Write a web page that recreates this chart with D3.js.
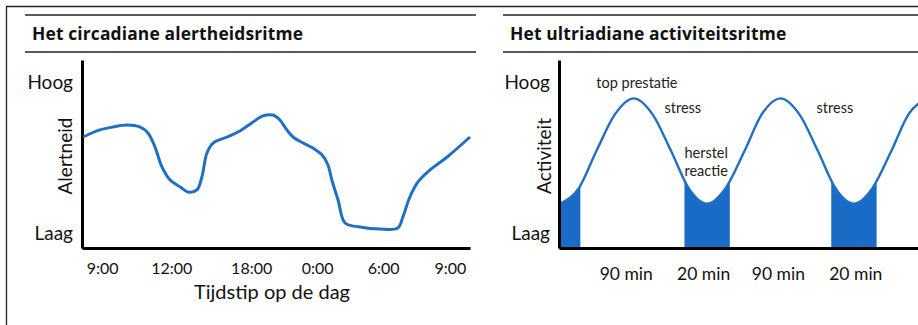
<!DOCTYPE html>
<html>
<head>
<meta charset="utf-8">
<script src="https://cdn.jsdelivr.net/npm/d3@7"></script>
<style>
  html, body { margin: 0; padding: 0; background: #fff; }
  svg { display: block; font-family: Lato, "Open Sans", sans-serif; }
</style>
</head>
<body>
<svg id="chart" width="918" height="325"></svg>
<script>
// ---- Het circadiane alertheidsritme ----
const circTitle = "Het circadiane alertheidsritme";
const timeTicks = ["9:00", "12:00", "18:00", "0:00", "6:00", "9:00"];
const timeTickPos = [5.2, 23, 43.6, 60.6, 77.6, 94.8];   // position along the day axis (0–100)
const alertX = [0.3, 4.6, 8.0, 11.6, 14.9, 17.0, 18.8, 20.6, 22.7, 25.3, 27.3, 29.6, 30.9, 32.2, 33.8,
                37.4, 40.7, 44.1, 46.6, 49.2, 51.0, 52.8, 54.4, 57.0, 59.5, 61.9, 63.4, 64.4, 66.0, 67.8,
                71.6, 76.8, 81.4, 82.7, 84.5, 86.6, 89.7, 94.1, 100];
const alertY = [6.38, 6.85, 7.05, 7.18, 7.05, 6.65, 5.72, 4.39, 3.52, 3.06, 2.72, 2.86, 3.72, 5.32, 5.98,
                6.38, 6.78, 7.38, 7.78, 7.84, 7.51, 6.85, 6.38, 5.98, 5.65, 5.18, 4.52, 3.52, 2.19, 0.66,
                0.40, 0.26, 0.33, 1.06, 2.39, 3.39, 4.19, 5.05, 6.38];

// ---- Het ultriadiane activiteitsritme ----
const ultraTitle = "Het ultriadiane activiteitsritme";
const waveMin = [1, 15, 28, 42, 56, 70, 84, 97, 111, 125, 139, 152, 166, 180, 194, 207, 221, 235, 249, 262, 276];
const waveVal = [1.95, 3.0, 5.45, 7.9, 8.95, 7.9, 5.45, 3.0, 1.95, 3.0, 5.45, 7.9, 8.95, 7.9, 5.45, 3.0, 1.95, 3.0, 5.45, 7.9, 8.95];
const bandStart = [0, 94, 204];
const bandEnd = [16, 128, 238];
const phaseLabels = ["90 min", "20 min", "90 min", "20 min"];
const phaseMid = [50, 108, 164, 222];
const noteText = ["top prestatie", "stress", "herstel", "reactie", "stress"];
const noteMin = [28, 79, 94, 94, 193];
const noteVal = [10, 8.3, 5.3, 4.1, 8.3];

const levelTicks = [0, 10];
const levelNames = ["Laag", "Hoog"];

const blue = "#1f6fc4";
const fillBlue = "#1a6bc6";
const ink = "#111";
const svg = d3.select("#chart");

// outer frame
svg.append("path")
  .attr("d", "M6.5,325 V6.5 H918")
  .attr("fill", "none").attr("stroke", "#222").attr("stroke-width", 1.3);

function header(x0, x1, title) {
  [15, 52].forEach(y => svg.append("line")
    .attr("x1", x0).attr("x2", x1).attr("y1", y).attr("y2", y)
    .attr("stroke", "#5a5a5a").attr("stroke-width", 2));
  svg.append("text").attr("x", x0 + 7).attr("y", 40)
    .attr("font-family", "'Open Sans', sans-serif")
    .attr("font-size", 17.4).attr("font-weight", 700).attr("fill", ink)
    .attr("letter-spacing", 0.15)
    .text(title);
}
header(25, 476, circTitle);
header(503, 918, ultraTitle);

const yScale = d3.scaleLinear().domain([-1, 11.5]).range([248, 60]);

function yAxis(x, name, nameX) {
  const g = svg.append("g").attr("transform", `translate(${x},0)`)
    .call(d3.axisLeft(yScale).tickValues(levelTicks).tickSize(0).tickPadding(9)
      .tickFormat((d, i) => levelNames[i]));
  g.select(".domain").attr("stroke", "#000").attr("stroke-width", 3);
  g.selectAll("text").attr("font-size", 19).attr("fill", ink).attr("font-family", "Lato, sans-serif");
  svg.append("text")
    .attr("transform", `translate(${nameX},156) rotate(-90)`)
    .attr("text-anchor", "middle").attr("dy", "0.35em")
    .attr("font-size", 19).attr("fill", ink).text(name);
}

// ---- left panel ----
const xDay = d3.scaleLinear().domain([0, 100]).range([82, 470]);
const gx1 = svg.append("g").attr("transform", "translate(0,248)")
  .call(d3.axisBottom(xDay).tickValues(timeTickPos).tickSize(0).tickSizeOuter(0).tickPadding(15)
    .tickFormat((d, i) => timeTicks[i]));
gx1.select(".domain").attr("stroke", "#000").attr("stroke-width", 3);
gx1.selectAll("text").attr("font-size", 16).attr("fill", ink).attr("font-family", "Lato, sans-serif");
svg.append("text").attr("x", 272).attr("y", 299).attr("text-anchor", "middle")
  .attr("font-size", 20).attr("fill", ink).text("Tijdstip op de dag");
yAxis(82, "Alertneid", 65);

svg.append("path")
  .datum(alertX.map((x, i) => [x, alertY[i]]))
  .attr("fill", "none").attr("stroke", blue).attr("stroke-width", 3)
  .attr("stroke-linejoin", "round")
  .attr("d", d3.line().x(d => xDay(d[0])).y(d => yScale(d[1])).curve(d3.curveCatmullRom.alpha(0.5)));

// ---- right panel ----
const xMin = d3.scaleLinear().domain([0, 269]).range([559, 918]);
const wave = waveMin.map((m, i) => [m, waveVal[i]]);

const defs = svg.append("defs");
const clip = defs.append("clipPath").attr("id", "bands");
bandStart.forEach((s, i) => clip.append("rect")
  .attr("x", xMin(s)).attr("width", xMin(bandEnd[i]) - xMin(s))
  .attr("y", 60).attr("height", 190));

svg.append("path").datum(wave)
  .attr("clip-path", "url(#bands)")
  .attr("fill", fillBlue)
  .attr("d", d3.area().x(d => xMin(d[0])).y0(yScale(-1)).y1(d => yScale(d[1])).curve(d3.curveMonotoneX));

svg.append("path").datum(wave)
  .attr("fill", "none").attr("stroke", blue).attr("stroke-width", 2.4)
  .attr("d", d3.line().x(d => xMin(d[0])).y(d => yScale(d[1])).curve(d3.curveMonotoneX));

const gx2 = svg.append("g").attr("transform", "translate(0,248)")
  .call(d3.axisBottom(xMin).tickValues(phaseMid).tickSize(0).tickSizeOuter(0).tickPadding(20)
    .tickFormat((d, i) => phaseLabels[i]));
gx2.select(".domain").attr("stroke", "#000").attr("stroke-width", 3);
gx2.selectAll("text").attr("font-size", 17.5).attr("fill", ink).attr("font-family", "Lato, sans-serif");
yAxis(559, "Activiteit", 544);

svg.append("g").selectAll("text").data(noteText).join("text")
  .attr("x", (d, i) => xMin(noteMin[i]))
  .attr("y", (d, i) => yScale(noteVal[i]))
  .attr("dy", "0.35em")
  .attr("font-size", 14.5).attr("fill", "#222")
  .text(d => d);
</script>
</body>
</html>
